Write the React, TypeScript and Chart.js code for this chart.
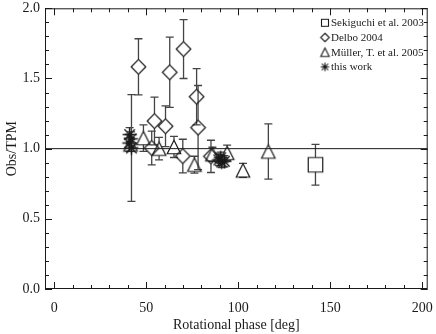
import React, { useEffect, useRef } from "react";
import { Chart, registerables } from "chart.js";

Chart.register(...registerables);

// ---- data ----
const sekiguchiPhase = [142];
const sekiguchiRatio = [0.885];
const sekiguchiErr = [0.145];

const delboPhase = [45.8, 62.8, 70.3, 77.4, 78.2, 54.5, 60.5, 53.0, 69.9, 85.2];
const delboRatio = [1.583, 1.544, 1.71, 1.37, 1.15, 1.197, 1.16, 1.005, 0.947, 0.945];
const delboErr = [0.2, 0.25, 0.21, 0.2, 0.3, 0.17, 0.145, 0.12, 0.12, 0.115];

const mullerPhase = [41.5, 48.5, 57.0, 65.1, 76.2, 86.0, 94.0, 102.6, 116.4];
const mullerRatio = [1.03, 1.075, 1.0, 1.012, 0.886, 0.96, 0.97, 0.845, 0.98];
const mullerErr = [0.05, 0.095, 0.08, 0.075, 0.06, 0.05, 0.055, 0.05, 0.197];

const thisPhase = [42.0, 41.0, 41.8, 40.8, 89.5, 91.0, 92.5, 90.5];
const thisRatio = [1.005, 1.1, 1.07, 1.04, 0.92, 0.905, 0.91, 0.935];
const thisErr = [0.38, 0.05, 0.05, 0.06, 0.04, 0.04, 0.04, 0.04];

const legendLabels = ["Sekiguchi et al. 2003", "Delbo 2004", "Müller, T. et al. 2005", "this work"];
const xMajorTicks = [0, 50, 100, 150, 200];
const yMajorTicks = [0, 0.5, 1.0, 1.5, 2.0];
const xMinorStep = 10;
const yMinorStep = 0.1;
const xRange = [-5, 203];
const yRange = [0, 2];
const refLevel = 1.0;
const xTitle = "Rotational phase [deg]";
const yTitle = "Obs/TPM";

const INK = "#1a1a1a";
const ERR = "#444444";
const FONT = "'Liberation Serif', 'Times New Roman', serif";

type Kind = "square" | "diamond" | "triangle" | "asterisk";

function makeMarker(kind: Kind, size: number, lw: number): HTMLCanvasElement {
  const s = Math.ceil(size + lw * 2 + 2);
  const c = document.createElement("canvas");
  c.width = s;
  c.height = s;
  const ctx = c.getContext("2d")!;
  const cx = s / 2;
  const cy = s / 2;
  const h = size / 2;
  ctx.strokeStyle = INK;
  ctx.lineWidth = lw;
  ctx.beginPath();
  if (kind === "square") {
    ctx.rect(cx - h, cy - h, size, size);
  } else if (kind === "diamond") {
    ctx.moveTo(cx, cy - h);
    ctx.lineTo(cx + h, cy);
    ctx.lineTo(cx, cy + h);
    ctx.lineTo(cx - h, cy);
    ctx.closePath();
  } else if (kind === "triangle") {
    ctx.moveTo(cx, cy - h);
    ctx.lineTo(cx + h, cy + h);
    ctx.lineTo(cx - h, cy + h);
    ctx.closePath();
  } else {
    ctx.moveTo(cx, cy - h);
    ctx.lineTo(cx, cy + h);
    ctx.moveTo(cx - h, cy);
    ctx.lineTo(cx + h, cy);
    const d = h * 0.75;
    ctx.moveTo(cx - d, cy - d);
    ctx.lineTo(cx + d, cy + d);
    ctx.moveTo(cx + d, cy - d);
    ctx.lineTo(cx - d, cy + d);
  }
  ctx.stroke();
  return c;
}

type Series = { phase: number[]; ratio: number[]; err: number[]; kind: Kind; size: number };

const series: Series[] = [
  { phase: sekiguchiPhase, ratio: sekiguchiRatio, err: sekiguchiErr, kind: "square", size: 14.5 },
  { phase: delboPhase, ratio: delboRatio, err: delboErr, kind: "diamond", size: 14.6 },
  { phase: mullerPhase, ratio: mullerRatio, err: mullerErr, kind: "triangle", size: 13.5 },
  { phase: thisPhase, ratio: thisRatio, err: thisErr, kind: "asterisk", size: 14 },
];
const legendSizes = [7, 8.5, 8.5, 8.5];

export default function App() {
  const ref = useRef<HTMLCanvasElement | null>(null);

  useEffect(() => {
    if (!ref.current) return;
    const markers = series.map((s) => makeMarker(s.kind, s.size, s.kind === "asterisk" ? 1.4 : 1.2));
    const legendMarkers = series.map((s, i) => makeMarker(s.kind, legendSizes[i], 1.1));

    const framePlugin = {
      id: "frame",
      beforeDatasetsDraw(chart: any) {
        const { ctx } = chart;
        const xs = chart.scales.x;
        const ys = chart.scales.y;
        ctx.save();
        ctx.strokeStyle = ERR;
        ctx.lineWidth = 1.3;
        series.forEach((s) => {
          const gap = s.kind === "asterisk" ? 0 : s.size / 2;
          s.phase.forEach((p, i) => {
            const x = xs.getPixelForValue(p);
            const yc = ys.getPixelForValue(s.ratio[i]);
            const yh = ys.getPixelForValue(s.ratio[i] + s.err[i]);
            const yl = ys.getPixelForValue(s.ratio[i] - s.err[i]);
            ctx.beginPath();
            if (yc - gap > yh) {
              ctx.moveTo(x, yh);
              ctx.lineTo(x, yc - gap);
            }
            if (yc + gap < yl) {
              ctx.moveTo(x, yc + gap);
              ctx.lineTo(x, yl);
            }
            ctx.moveTo(x - 4, yh);
            ctx.lineTo(x + 4, yh);
            ctx.moveTo(x - 4, yl);
            ctx.lineTo(x + 4, yl);
            ctx.stroke();
          });
        });
        ctx.restore();
      },
      afterDatasetsDraw(chart: any) {
        const { ctx, chartArea: a } = chart;
        const xs = chart.scales.x;
        const ys = chart.scales.y;
        ctx.save();
        ctx.strokeStyle = INK;
        ctx.lineWidth = 1;
        ctx.strokeRect(a.left + 0.5, a.top + 0.5, a.right - a.left - 1, a.bottom - a.top - 1);
        ctx.beginPath();
        for (let v = xMajorTicks[0]; v <= xRange[1] + 1e-9; v += xMinorStep) {
          const major = xMajorTicks.some((m) => Math.abs(m - v) < 1e-6);
          const len = major ? 7 : 4;
          const x = Math.round(xs.getPixelForValue(v)) + 0.5;
          ctx.moveTo(x, a.bottom);
          ctx.lineTo(x, a.bottom - len);
          ctx.moveTo(x, a.top);
          ctx.lineTo(x, a.top + len);
        }
        for (let k = 0; k * yMinorStep <= yRange[1] + 1e-9; k++) {
          const v = yRange[0] + k * yMinorStep;
          const major = yMajorTicks.some((m) => Math.abs(m - v) < 1e-6);
          const len = major ? 7 : 4;
          const y = Math.round(ys.getPixelForValue(v)) + 0.5;
          ctx.moveTo(a.left, y);
          ctx.lineTo(a.left + len, y);
          ctx.moveTo(a.right, y);
          ctx.lineTo(a.right - len, y);
        }
        ctx.stroke();

        // legend
        const lx = 325;
        const ly0 = 22.8;
        const dy = 14.7;
        ctx.fillStyle = INK;
        ctx.font = `11px ${FONT}`;
        ctx.textBaseline = "middle";
        ctx.textAlign = "left";
        legendLabels.forEach((t, i) => {
          const y = ly0 + i * dy;
          const m = legendMarkers[i];
          ctx.drawImage(m, lx - m.width / 2, y - m.height / 2);
          ctx.fillText(t, lx + 6, y + 0.5);
        });
        ctx.restore();
      },
    };

    const datasets: any[] = series.map((s, i) => ({
      type: "scatter",
      label: legendLabels[i],
      data: s.phase.map((p, j) => ({ x: p, y: s.ratio[j] })),
      pointStyle: markers[i],
      pointRadius: s.size / 2,
      pointHoverRadius: s.size / 2,
      showLine: false,
      order: 1,
    }));
    datasets.push({
      type: "line",
      label: "ref",
      data: [
        { x: xRange[0], y: refLevel },
        { x: xRange[1], y: refLevel },
      ],
      borderColor: INK,
      borderWidth: 1,
      pointRadius: 0,
      order: 10,
    });

    const tickFont = { family: FONT, size: 14 };
    const chart = new Chart(ref.current, {
      type: "scatter",
      data: { datasets },
      options: {
        animation: false,
        responsive: false,
        devicePixelRatio: 1,
        layout: { padding: { top: 4, right: 3, left: 0, bottom: 0 } },
        plugins: { legend: { display: false }, tooltip: { enabled: false } },
        events: [],
        scales: {
          x: {
            type: "linear",
            min: xRange[0],
            max: xRange[1],
            afterBuildTicks: (s: any) => {
              s.ticks = xMajorTicks.map((v) => ({ value: v }));
            },
            afterFit: (s: any) => {
              s.height = 45;
              s.paddingLeft = 0;
              s.paddingRight = 0;
            },
            grid: { display: false, drawTicks: false },
            border: { display: false },
            ticks: { font: tickFont, color: INK, padding: 11, maxRotation: 0, callback: (v: any) => String(v) },
            title: { display: true, text: xTitle, font: tickFont, color: INK, padding: { top: 0, bottom: 0 } },
          },
          y: {
            type: "linear",
            min: yRange[0],
            max: yRange[1],
            afterBuildTicks: (s: any) => {
              s.ticks = yMajorTicks.map((v) => ({ value: v }));
            },
            afterFit: (s: any) => {
              s.width = 45;
              s.paddingTop = 0;
              s.paddingBottom = 0;
            },
            grid: { display: false, drawTicks: false },
            border: { display: false },
            ticks: { font: tickFont, color: INK, padding: 5, callback: (v: any) => Number(v).toFixed(1) },
            title: { display: true, text: yTitle, font: tickFont, color: INK, padding: { top: 4, bottom: 0 } },
          },
        },
      },
      plugins: [framePlugin],
    } as any);
    return () => chart.destroy();
  }, []);

  return (
    <div style={{ position: "absolute", left: 0, top: 0, width: 436, height: 334, background: "#fff" }}>
      <canvas ref={ref} width={436} height={334} style={{ display: "block", width: 436, height: 334 }} />
    </div>
  );
}
